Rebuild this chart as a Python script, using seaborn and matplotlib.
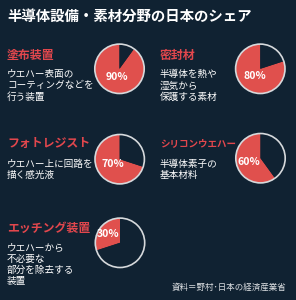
import matplotlib
matplotlib.use("Agg")
import matplotlib.pyplot as plt
from matplotlib.patches import Circle
import seaborn as sns

# ---- data ----
title = "半導体設備・素材分野の日本のシェア"
categories = ["塗布装置", "密封材", "フォトレジスト", "シリコンウエハー", "エッチング装置"]
descriptions = [
    ["ウエハー表面の", "コーティングなどを", "行う装置"],
    ["半導体を熱や", "湿気から", "保護する素材"],
    ["ウエハー上に回路を", "描く感光液"],
    ["半導体素子の", "基本材料"],
    ["ウエハーから", "不必要な", "部分を除去する", "装置"],
]
shares = [90, 80, 70, 60, 30]
source = "資料＝野村･日本の経済産業省"

# ---- style ----
BG = "#102232"
RED = "#e0504d"
HEAD_RED = "#e2474d"
RING = "#d6d9dc"

sns.set_theme(style="dark", rc={"figure.facecolor": BG, "axes.facecolor": BG,
                                "savefig.facecolor": BG})
plt.rcParams["font.family"] = ["Noto Sans CJK JP", "DejaVu Sans"]

W, H = 296, 300
fig = plt.figure(figsize=(W / 100, H / 100), dpi=100, facecolor=BG)


def fx(px):
    return px / W


def fy(py):
    return 1 - py / H


fig.text(fx(7), fy(17), title, color="white", fontsize=10.4,
         fontweight="bold", ha="left", va="center")

# layout (pixels)
text_x = [7, 160, 7, 160, 7]
pie_cx = [119.5, 260.3, 119.7, 260.5, 120.0]
pie_cy = [68.8, 68.8, 159.2, 158.2, 242.8]
head_y = [55, 55, 143, 143, 228]
desc_y0 = [74.5, 74.5, 164, 164, 248]
line_h = 11.3
pct_dist = [0.36, 0.37, 0.36, 0.5, 0.6]
R = 24.7
LIM = 1.25
palette = sns.color_palette([RED, BG])

renderer = fig.canvas.get_renderer()


def fit(t, avail):
    w = t.get_window_extent(renderer).width
    if w > avail:
        t.set_fontsize(t.get_fontsize() * avail / w)


for i, cat in enumerate(categories):
    avail = pie_cx[i] - R - text_x[i] - 0.5
    th = fig.text(fx(text_x[i]), fy(head_y[i]), cat, color=HEAD_RED,
                  fontsize=8.6, fontweight="bold", ha="left", va="center")
    fit(th, avail)
    for j, line in enumerate(descriptions[i]):
        td = fig.text(fx(text_x[i]), fy(desc_y0[i] + j * line_h), line,
                      color="white", fontsize=6.9, ha="left", va="center")
        fit(td, avail)

    S = 2 * R * LIM
    ax = fig.add_axes([fx(pie_cx[i] - S / 2), fy(pie_cy[i] + S / 2),
                       S / W, S / H])
    ax.set_facecolor(BG)
    v = shares[i]
    wedges, texts, autotexts = ax.pie(
        [v, 100 - v], colors=palette, startangle=90, counterclock=True,
        radius=1, autopct=lambda p: f"{p:.0f}%",
        pctdistance=pct_dist[i],
        wedgeprops=dict(linewidth=0),
        textprops=dict(color="white", fontsize=7.6, fontweight="bold",
                       family=["Noto Sans CJK JP", "DejaVu Sans"]))
    for k, at in enumerate(autotexts):
        if k != 0:
            at.set_text("")
    ax.add_patch(Circle((0, 0), 1, fill=False, edgecolor=RING, linewidth=1.2))
    ax.set_xlim(-LIM, LIM)
    ax.set_ylim(-LIM, LIM)
    ax.set_aspect("equal")
    ax.axis("off")

fig.text(fx(286), fy(287), source, color="#dde0e3", fontsize=6.1,
         ha="right", va="center")

fig.savefig("out.png", dpi=100, facecolor=BG)
